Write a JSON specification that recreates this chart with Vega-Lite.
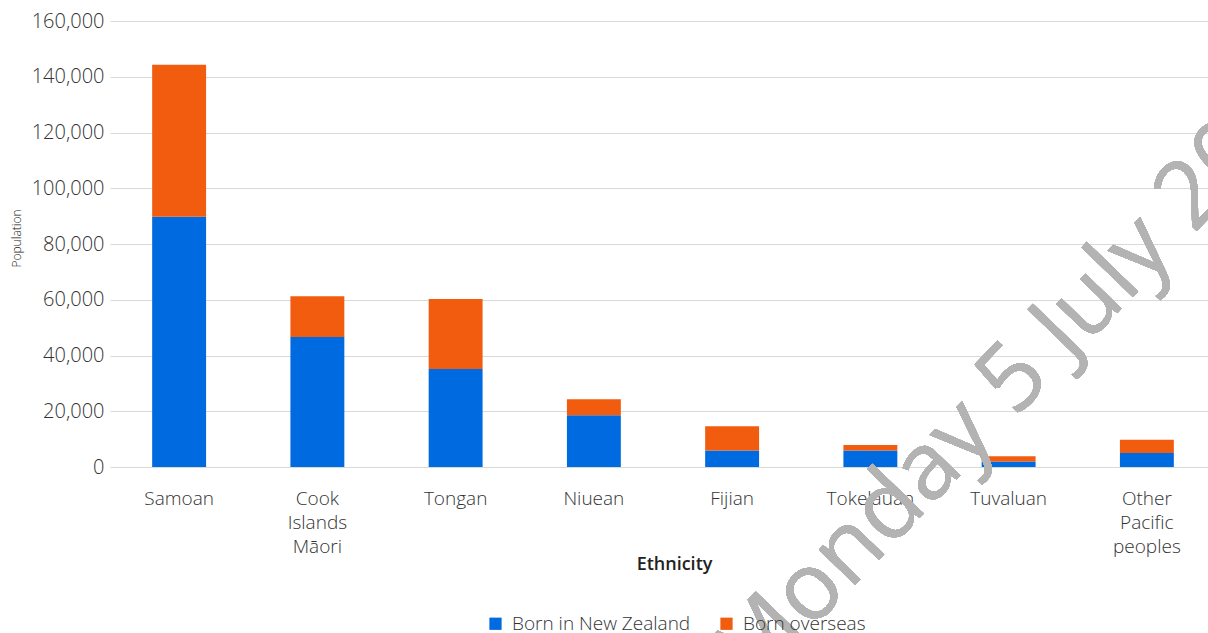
{
  "$schema": "https://vega.github.io/schema/vega-lite/v6.json",
  "width": 1106,
  "height": 446,
  "autosize": {"type": "none"},
  "padding": {"left": 110, "top": 21, "right": 0, "bottom": 166},
  "background": "white",
  "config": {
    "font": "Open Sans",
    "view": {"stroke": null},
    "axis": {"labelColor": "#333333", "titleColor": "#222222"}
  },
  "data": {
    "values": [
      {"ethnicity": "Samoan", "birthplace": "Born in New Zealand", "population": 89750},
      {"ethnicity": "Samoan", "birthplace": "Born overseas", "population": 54550},
      {"ethnicity": "Cook Islands Māori", "birthplace": "Born in New Zealand", "population": 46600},
      {"ethnicity": "Cook Islands Māori", "birthplace": "Born overseas", "population": 14700},
      {"ethnicity": "Tongan", "birthplace": "Born in New Zealand", "population": 35200},
      {"ethnicity": "Tongan", "birthplace": "Born overseas", "population": 25100},
      {"ethnicity": "Niuean", "birthplace": "Born in New Zealand", "population": 18600},
      {"ethnicity": "Niuean", "birthplace": "Born overseas", "population": 5700},
      {"ethnicity": "Fijian", "birthplace": "Born in New Zealand", "population": 5900},
      {"ethnicity": "Fijian", "birthplace": "Born overseas", "population": 8700},
      {"ethnicity": "Tokelauan", "birthplace": "Born in New Zealand", "population": 5900},
      {"ethnicity": "Tokelauan", "birthplace": "Born overseas", "population": 2000},
      {"ethnicity": "Tuvaluan", "birthplace": "Born in New Zealand", "population": 2000},
      {"ethnicity": "Tuvaluan", "birthplace": "Born overseas", "population": 1900},
      {"ethnicity": "Other Pacific peoples", "birthplace": "Born in New Zealand", "population": 5000},
      {"ethnicity": "Other Pacific peoples", "birthplace": "Born overseas", "population": 4750}
    ]
  },
  "layer": [
    {
      "mark": {"type": "bar"},
      "encoding": {
        "x": {
          "field": "ethnicity",
          "type": "nominal",
          "sort": null,
          "scale": {"paddingInner": 0.61, "paddingOuter": 0.305},
          "axis": {
            "title": "Ethnicity",
            "titleFontSize": 18,
            "titleFontWeight": 600,
            "titleX": 564,
            "titleY": 97,
            "titleBaseline": "middle",
            "labelAngle": 0,
            "labelFontSize": 19,
            "labelFontWeight": 300,
            "labelLineHeight": 24,
            "labelPadding": 31,
            "labelBaseline": "middle",
            "labelExpr": "split(datum.label, ' ')",
            "labelLimit": 0,
            "ticks": false,
            "domain": false
          }
        },
        "y": {
          "field": "population",
          "type": "quantitative",
          "aggregate": "sum",
          "stack": "zero",
          "scale": {"domain": [0, 160000]},
          "axis": {
            "title": "Population",
            "titleFontSize": 12,
            "titleFontWeight": 300,
            "titleX": -94,
            "titleY": 217,
            "titleAlign": "center",
            "titleBaseline": "middle",
            "values": [0, 20000, 40000, 60000, 80000, 100000, 120000, 140000, 160000],
            "format": ",.0f",
            "labelFontSize": 20,
            "labelFontWeight": 300,
            "labelPadding": 6,
            "labelOverlap": false,
            "ticks": false,
            "domain": false,
            "gridColor": "#d9d9d9",
            "gridWidth": 1
          }
        },
        "color": {
          "field": "birthplace",
          "type": "nominal",
          "scale": {"domain": ["Born in New Zealand", "Born overseas"], "range": ["#006AE0", "#F25C0F"]},
          "legend": {
            "title": null,
            "orient": "none",
            "direction": "horizontal",
            "legendX": 376,
            "legendY": 593,
            "symbolType": "square",
            "symbolSize": 150,
            "symbolStrokeWidth": 0,
            "labelFontSize": 19,
            "labelFontWeight": 300,
            "labelColor": "#333333",
            "labelOffset": 7,
            "labelLimit": 0,
            "columnPadding": 26
          }
        },
        "order": {"field": "birthplace", "type": "nominal", "sort": "ascending"}
      }
    },
    {
      "mark": {
        "type": "text",
        "font": "Open Sans",
        "fontSize": 94,
        "fontWeight": 400,
        "angle": -46,
        "align": "center",
        "baseline": "middle",
        "fill": "#b3b3b3",
        "stroke": null,
        "strokeWidth": 0,
        "dx": 14,
        "dy": 12
      },
      "encoding": {
        "x": {"datum": "Tuvaluan"},
        "y": {"datum": 35500},
        "text": {"value": "Monday 5 July 2021"}
      }
    }
  ]
}
